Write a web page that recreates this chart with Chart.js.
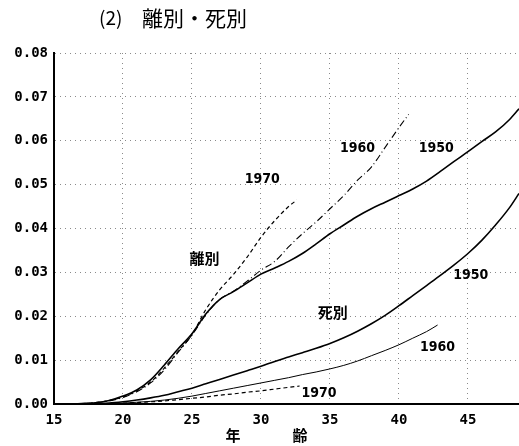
<!DOCTYPE html>
<html>
<head>
<meta charset="utf-8">
<script src="https://cdn.jsdelivr.net/npm/chart.js@4.4.1/dist/chart.umd.min.js"></script>
<style>
  html, body { margin: 0; padding: 0; background: #ffffff; }
  #wrap { width: 519px; height: 446px; }
</style>
</head>
<body>
<div id="wrap"><canvas id="chart" width="519" height="446"></canvas></div>
<script>
// 離別 (divorce) cumulative rates by age
const div1950Age = [16, 17, 18, 19, 20, 21, 22, 23, 24, 25, 26, 27, 28, 29, 30, 31, 32, 33, 34, 35, 36, 37, 38, 39, 40, 41, 42, 43, 44, 45, 46, 47, 48, 48.7];
const div1950Val = [0, 0.0001, 0.0003, 0.0008, 0.0018, 0.0032, 0.0055, 0.0089, 0.0126, 0.0160, 0.0205, 0.0238, 0.0256, 0.0276, 0.0296, 0.0310, 0.0325, 0.0343, 0.0365, 0.0388, 0.0408, 0.0428, 0.0445, 0.0460, 0.0475, 0.0490, 0.0508, 0.0530, 0.0553, 0.0575, 0.0598, 0.0620, 0.0648, 0.0673];

const div1960Age = [17, 18, 19, 20, 21, 22, 23, 24, 25, 26, 27, 28, 29, 30, 31, 32, 33, 34, 35, 36, 37, 38, 39, 40, 40.7];
const div1960Val = [0.0001, 0.0003, 0.0007, 0.0015, 0.0028, 0.0048, 0.0078, 0.0118, 0.0157, 0.0203, 0.0238, 0.0257, 0.0280, 0.0305, 0.0325, 0.0358, 0.0388, 0.0415, 0.0445, 0.0475, 0.0510, 0.0540, 0.0585, 0.0630, 0.0660];

const div1970Age = [17, 18, 19, 20, 21, 22, 23, 24, 25, 26, 27, 28, 29, 30, 31, 32, 32.6];
const div1970Val = [0.0001, 0.0003, 0.0008, 0.0016, 0.0030, 0.0050, 0.0082, 0.0120, 0.0158, 0.0215, 0.0260, 0.0295, 0.0335, 0.0380, 0.0418, 0.0450, 0.0465];

// 死別 (widowhood) cumulative rates by age
const dth1950Age = [17, 18, 19, 20, 21, 22, 23, 24, 25, 26, 27, 28, 29, 30, 31, 32, 33, 34, 35, 36, 37, 38, 39, 40, 41, 42, 43, 44, 45, 46, 47, 48, 48.7];
const dth1950Val = [0, 0.0001, 0.0002, 0.0005, 0.0009, 0.0014, 0.0020, 0.0028, 0.0036, 0.0046, 0.0056, 0.0066, 0.0076, 0.0086, 0.0097, 0.0107, 0.0117, 0.0127, 0.0138, 0.0151, 0.0166, 0.0183, 0.0202, 0.0224, 0.0247, 0.0270, 0.0293, 0.0317, 0.0343, 0.0373, 0.0408, 0.0447, 0.0480];

const dth1960Age = [19, 20, 21, 22, 23, 24, 25, 26, 27, 28, 29, 30, 31, 32, 33, 34, 35, 36, 37, 38, 39, 40, 41, 42, 42.8];
const dth1960Val = [0.0001, 0.0002, 0.0004, 0.0006, 0.0009, 0.0013, 0.0018, 0.0024, 0.0030, 0.0036, 0.0042, 0.0048, 0.0054, 0.0060, 0.0067, 0.0073, 0.0080, 0.0088, 0.0098, 0.0110, 0.0122, 0.0135, 0.0150, 0.0165, 0.0180];

const dth1970Age = [19, 20, 21, 22, 23, 24, 25, 26, 27, 28, 29, 30, 31, 32, 32.8];
const dth1970Val = [0.0001, 0.0002, 0.0003, 0.0005, 0.0007, 0.0010, 0.0013, 0.0016, 0.0020, 0.0023, 0.0027, 0.0030, 0.0034, 0.0038, 0.0041];

const xTicks = [15, 20, 25, 30, 35, 40, 45];
const yTicks = [0, 0.01, 0.02, 0.03, 0.04, 0.05, 0.06, 0.07, 0.08];

const titleNumber = "(2)";
const titleText = "離別・死別";
const xTitleLeft = "年";
const xTitleRight = "齢";

// curve labels, anchored at [age, value]
const curveNotes = [
  ["1970", 30.1, 0.0513],
  ["1960", 37.0, 0.0582],
  ["1950", 42.7, 0.0582],
  ["離別", 25.9, 0.0332],
  ["死別", 35.2, 0.0209],
  ["1950", 45.2, 0.0293],
  ["1960", 42.8, 0.0130],
  ["1970", 34.2, 0.0025]
];

function pairs(ages, vals) {
  return ages.map((a, i) => ({ x: a, y: vals[i] }));
}

function lineSet(ages, vals, width, dash) {
  return {
    data: pairs(ages, vals),
    borderColor: "#000000",
    borderWidth: width,
    borderDash: dash,
    fill: false,
    cubicInterpolationMode: "monotone",
    pointRadius: 0
  };
}

const labelPlugin = {
  id: "labelPlugin",
  afterDraw(chart) {
    const { ctx, scales } = chart;
    ctx.save();
    ctx.fillStyle = "#000000";
    ctx.textBaseline = "middle";

    ctx.textAlign = "left";
    ctx.font = "19px 'Noto Sans CJK JP', 'DejaVu Sans'";
    ctx.fillText(titleNumber, 99, 18);
    ctx.font = "21px 'Noto Sans CJK JP'";
    ctx.fillText(titleText, 142, 18);

    ctx.textAlign = "center";
    ctx.font = "bold 15px 'Noto Sans CJK JP'";
    ctx.fillText(xTitleLeft, 233, 435);
    ctx.fillText(xTitleRight, 300, 435);

    curveNotes.forEach(([text, age, val]) => {
      const x = scales.x.getPixelForValue(age);
      const y = scales.y.getPixelForValue(val);
      if (/^\d/.test(text)) {
        ctx.font = "bold 14px 'DejaVu Sans Condensed', 'Liberation Sans Narrow', sans-serif";
      } else {
        ctx.font = "bold 15px 'Noto Sans CJK JP'";
      }
      ctx.fillText(text, x, y);
    });
    ctx.restore();
  }
};

const gridStyle = {
  color: "#8a8a8a",
  lineWidth: 1,
  drawTicks: false
};

new Chart(document.getElementById("chart"), {
  type: "line",
  data: {
    datasets: [
      lineSet(div1950Age, div1950Val, 1.6, []),
      lineSet(div1960Age, div1960Val, 1.1, [7, 3, 1, 3]),
      lineSet(div1970Age, div1970Val, 1.2, [4, 3]),
      lineSet(dth1950Age, dth1950Val, 1.6, []),
      lineSet(dth1960Age, dth1960Val, 1.0, []),
      lineSet(dth1970Age, dth1970Val, 1.2, [4, 3])
    ]
  },
  options: {
    responsive: false,
    devicePixelRatio: 1,
    animation: false,
    layout: { padding: { top: 53, right: 0, bottom: 0, left: 0 } },
    plugins: {
      legend: { display: false },
      tooltip: { enabled: false }
    },
    scales: {
      x: {
        type: "linear",
        min: 15,
        max: 48.7,
        afterBuildTicks(scale) {
          scale.ticks = xTicks.map((v) => ({ value: v }));
        },
        afterFit(scale) {
          scale.height = 42;
        },
        ticks: {
          color: "#000000",
          padding: 8,
          maxRotation: 0,
          font: { family: "'DejaVu Sans Mono'", size: 14, weight: "bold" },
          callback(value) {
            return String(value);
          }
        },
        grid: { ...gridStyle },
        border: { display: true, color: "#000000", width: 2, dash: [1, 4] }
      },
      y: {
        type: "linear",
        min: 0,
        max: 0.08,
        afterBuildTicks(scale) {
          scale.ticks = yTicks.map((v) => ({ value: v }));
        },
        afterFit(scale) {
          scale.width = 54;
        },
        ticks: {
          color: "#000000",
          padding: 6,
          font: { family: "'DejaVu Sans Mono'", size: 14, weight: "bold" },
          callback(value) {
            return Number(value).toFixed(2);
          }
        },
        grid: { ...gridStyle },
        border: { display: true, color: "#000000", width: 2, dash: [1, 4] }
      }
    }
  },
  plugins: [labelPlugin]
});
</script>
</body>
</html>
